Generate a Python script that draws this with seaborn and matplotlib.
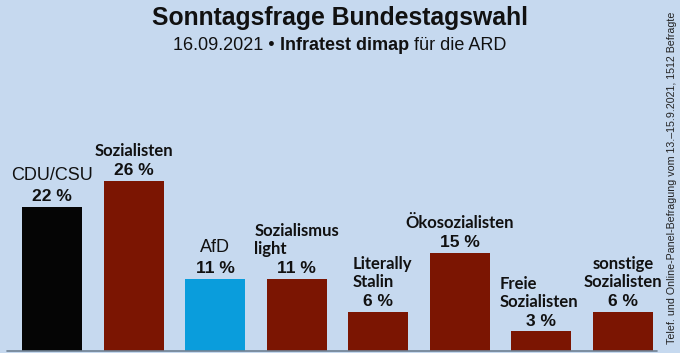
import matplotlib
matplotlib.use("Agg")
import matplotlib.pyplot as plt
import seaborn as sns
import pandas as pd

parties = ["CDU/CSU", "Sozialisten", "AfD", "Sozialismus\nlight", "Literally\nStalin",
           "Ökosozialisten", "Freie\nSozialisten", "sonstige\nSozialisten"]
values = [22, 26, 11, 11, 6, 15, 3, 6]
colors = ["#050505", "#7b1502", "#0a9ddc", "#7b1502", "#7b1502", "#7b1502", "#7b1502", "#7b1502"]
value_labels = ["22 %", "26 %", "11 %", "11 %", "6 %", "15 %", "3 %", "6 %"]
arial_labels = ["CDU/CSU", "AfD"]
left_aligned = ["Sozialismus\nlight", "Literally\nStalin", "Freie\nSozialisten"]
label_shift = {"Literally\nStalin": 3, "Freie\nSozialisten": -1.5}

bg = "#c6d9ef"
sns.set_theme(style="white")
plt.rcParams["font.family"] = ["Liberation Sans", "DejaVu Sans"]

df = pd.DataFrame({"party": parties, "value": values})

fig = plt.figure(figsize=(6.8, 3.53), dpi=100, facecolor=bg)
ax = fig.add_axes([11.2 / 680, 2 / 353, (663.8 - 11.2) / 680, 291 / 353])
ax.set_facecolor(bg)
sns.barplot(data=df, x="party", y="value", hue="party", palette=colors, legend=False,
            width=0.735, saturation=1, linewidth=0, edgecolor="none", ax=ax)
ax.set_xlim(-0.5, 7.5)
ax.set_ylim(0, 291 / 6.55)
for s in ax.spines.values():
    s.set_visible(False)
ax.set_xticks([])
ax.set_yticks([])
ax.set_xlabel("")
ax.set_ylabel("")
ax.axhline(0, xmin=-0.006, xmax=0.99, color="#6f8193", lw=1.2, clip_on=False)

for i, (name, v, vl) in enumerate(zip(parties, values, value_labels)):
    ax.annotate(vl, (i, v), xytext=(0, 2), textcoords="offset points", ha="center",
                va="bottom", fontsize=12.5, fontweight="bold", color="#111111",
                family=["Liberation Sans"])
    if name in arial_labels:
        ax.annotate(name, (i, v), xytext=(0, 16.5), textcoords="offset points", ha="center",
                    va="bottom", fontsize=13, color="#111111", family=["Liberation Sans"])
    else:
        dx = label_shift.get(name, 0)
        ax.annotate(name, (i, v), xytext=(dx, 15.5), textcoords="offset points", ha="center",
                    va="bottom", fontsize=12, fontweight="bold", color="#111111",
                    family=["Lato", "DejaVu Sans"], linespacing=1.15,
                    multialignment="left" if name in left_aligned else "center")

fig.text(0.5, 1 - 18 / 353, "Sonntagsfrage Bundestagswahl", ha="center", va="center",
         fontsize=17.8, fontweight="bold", color="#111111")

# subtitle composed of pieces, centred as a whole
pieces = [("16.09.2021 \u2022 ", "normal"), ("Infratest dimap", "bold"), (" für die ARD", "normal")]
fig.canvas.draw()
renderer = fig.canvas.get_renderer()
texts = []
for s, w in pieces:
    t = fig.text(0, 1 - 45 / 353, s, ha="left", va="center", fontsize=13, fontweight=w,
                 color="#111111")
    texts.append(t)
widths = [t.get_window_extent(renderer).width for t in texts]
total = sum(widths)
x = 340 - total / 2
for t, wdt in zip(texts, widths):
    t.set_x(x / 680)
    x += wdt

fig.text(672 / 680, 1 - 12 / 353, "Telef. und Online-Panel-Befragung vom 13.\u201315.9.2021, 1512 Befragte",
         rotation=90, ha="center", va="top", fontsize=7.7, color="#222222")

fig.savefig("out.png", dpi=100, facecolor=bg)
